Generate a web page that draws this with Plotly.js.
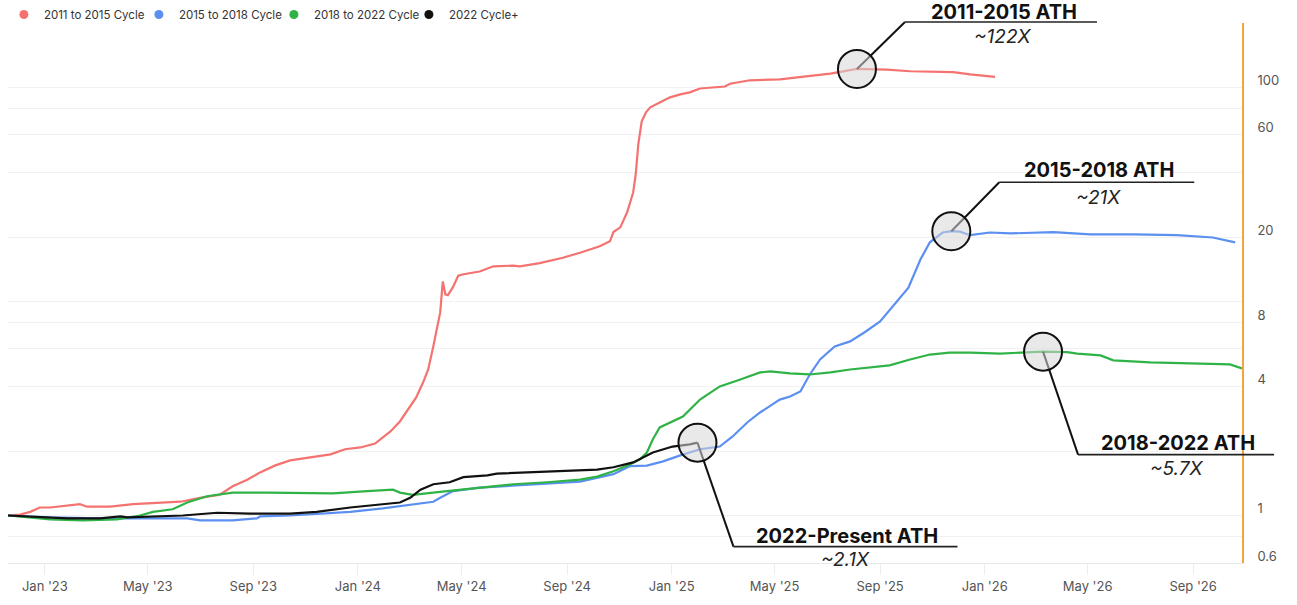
<!DOCTYPE html>
<html><head><meta charset="utf-8">
<script src="https://cdn.plot.ly/plotly-3.0.1.min.js"></script>
<style>html,body{margin:0;padding:0;background:#fff}#chart{width:1297px;height:605px}</style>
</head><body><div id="chart"></div>
<script>
// ---- data (days since cycle start, value as multiple of cycle low) ----
const cycleStart = '2022-11-19';
const seriesNames = ['2011 to 2015 Cycle', '2015 to 2018 Cycle', '2018 to 2022 Cycle', '2022 Cycle+'];
const seriesColors = ['#f4726f', '#5b8ff0', '#2fb346', '#111111'];

const redDays = [0,14,26,37,49,69,84,92,119,146,177,201,224,247,262,279,294,311,329,352,376,393,411,428,434,446,457,469,476,484,490,496,500,504,507,510,513,519,525,531,550,566,589,597,620,647,667,690,702,706,714,722,729,732,735,739,744,749,760,772,784,795,807,825,836,842,865,900,924,959,990,1025,1052,1083,1102,1122,1151];
const redValues = [1.00,1.01,1.04,1.09,1.09,1.11,1.13,1.10,1.10,1.13,1.15,1.16,1.21,1.25,1.37,1.47,1.59,1.71,1.81,1.87,1.93,2.04,2.08,2.17,2.27,2.47,2.75,3.23,3.56,4.18,4.81,6.17,7.41,8.89,12.4,10.8,10.7,11.7,13.2,13.4,13.8,14.6,14.7,14.6,15.1,16.0,16.9,18.1,19.1,21.1,22.2,26.1,32.3,39.2,54.2,69.4,76.5,80.7,85.1,89.9,92.8,94.8,98.9,100,101,104,108,109,112,116,122,121,119,118,118,115,112];

const blueDays = [0,49,107,146,209,224,262,290,294,329,360,399,437,477,496,504,519,550,589,629,667,706,725,745,764,784,807,830,845,862,877,900,912,924,935,947,964,982,999,1017,1034,1050,1064,1075,1090,1100,1110,1122,1145,1169,1219,1262,1312,1363,1405,1431];
const blueValues = [1.00,0.98,0.97,0.97,0.97,0.95,0.95,0.97,0.99,1.00,1.02,1.04,1.08,1.13,1.16,1.21,1.30,1.35,1.38,1.41,1.44,1.56,1.70,1.71,1.79,1.91,2.04,2.10,2.34,2.72,3.03,3.48,3.60,3.80,4.56,5.36,6.17,6.51,7.18,8.07,9.69,11.6,15.7,18.9,21.0,21.3,21.2,20.4,21.0,20.8,21.1,20.6,20.6,20.4,19.9,18.9];

const greenDays = [0,49,87,127,154,169,192,209,232,262,302,341,379,419,449,457,472,512,550,589,629,667,687,706,725,737,745,752,760,772,787,807,819,830,854,877,889,912,935,959,982,1005,1028,1052,1075,1098,1122,1157,1207,1235,1247,1274,1282,1289,1332,1390,1425,1439];
const greenValues = [1.00,0.96,0.95,0.96,1.00,1.04,1.07,1.15,1.23,1.28,1.28,1.28,1.27,1.30,1.32,1.28,1.25,1.30,1.35,1.40,1.43,1.47,1.52,1.61,1.73,1.83,1.97,2.27,2.58,2.72,2.90,3.48,3.76,4.01,4.32,4.66,4.71,4.61,4.56,4.66,4.81,4.92,5.03,5.36,5.65,5.77,5.77,5.71,5.83,5.80,5.71,5.60,5.42,5.31,5.19,5.13,5.08,4.87];

const blackDays = [0,29,69,107,131,139,166,204,244,282,329,360,399,437,457,469,481,496,515,531,559,570,609,647,687,706,729,752,775,795,804];
const blackValues = [1.00,0.99,0.97,0.97,0.99,0.98,0.99,1.00,1.03,1.02,1.02,1.04,1.09,1.13,1.15,1.21,1.32,1.40,1.43,1.51,1.54,1.57,1.59,1.61,1.64,1.68,1.77,1.97,2.10,2.15,2.19];

const yTickValues = [0.6, 0.8, 1, 2, 4, 6, 8, 10, 20, 40, 60, 80, 100, 200];
const yTickLabels = ['0.6', '', '1', '', '4', '', '8', '', '20', '', '60', '', '100', ''];
const xTickStart = '2023-01-01';
const xRange = ['2022-11-19', '2026-10-28'];
const yRange = [0.6, 200];

const athTitles = ['2011-2015 ATH', '2015-2018 ATH', '2018-2022 ATH', '2022-Present ATH'];
const athMultiples = ['~122X', '~21X', '~5.7X', '~2.1X'];

// ---- layout geometry ----
const W = 1297, H = 605;
const M = {l: 8, r: 55, t: 23, b: 42};
const plotW = W - M.l - M.r, plotH = H - M.t - M.b;

// ---- helpers ----
const startMs = Date.parse(cycleStart + 'T00:00:00Z');
function dayToDate(d) { return new Date(startMs + d * 86400000).toISOString().slice(0, 10); }
const xLo = Date.parse(xRange[0] + 'T00:00:00Z'), xHi = Date.parse(xRange[1] + 'T00:00:00Z');
const yLo = Math.log10(yRange[0]), yHi = Math.log10(yRange[1]);
// fraction of the plot area for a data point (same linear/log mapping as the axes)
function xFrac(dateStr) { return (Date.parse(dateStr + 'T00:00:00Z') - xLo) / (xHi - xLo); }
function yFrac(v) { return (Math.log10(v) - yLo) / (yHi - yLo); }

const allDays = [redDays, blueDays, greenDays, blackDays];
const allValues = [redValues, blueValues, greenValues, blackValues];

const traces = [];
allDays.forEach((days, i) => {
  traces.push({
    type: 'scatter', mode: 'lines', name: seriesNames[i], legendgroup: 'g' + i, showlegend: false,
    x: days.map(dayToDate), y: allValues[i],
    line: {color: seriesColors[i], width: 2.2}, hoverinfo: 'x+y+name'
  });
});
// legend entries shown as dots
seriesNames.forEach((n, i) => {
  traces.push({
    type: 'scatter', mode: 'markers', name: n, legendgroup: 'g' + i, showlegend: true,
    x: [null], y: [null], marker: {color: seriesColors[i], size: 9}
  });
});

// callout geometry (pixel offsets from ATH point; positive dy = up)
const calloutGeom = [
  {lx: 48, ly: 47, len: 192, tx: 147, ty: 57, sx: 146, sy: 32},
  {lx: 48, ly: 49, len: 195, tx: 148, ty: 61, sx: 147, sy: 34},
  {lx: 35, ly: -103, len: 196, tx: 135, ty: -91, sx: 134, sy: -117},
  {lx: 36, ly: -104, len: 224, tx: 150, ty: -93, sx: 148, sy: -117}
];
const R = 19;

const shapes = [];
const annotations = [];
allValues.forEach((vals, i) => {
  let k = 0;
  vals.forEach((v, j) => { if (v > vals[k]) k = j; });
  const ax = dayToDate(allDays[i][k]);
  const g = calloutGeom[i];
  const px = xFrac(ax), py = yFrac(vals[k]);
  const ox = d => px + d / plotW, oy = d => py + d / plotH;
  const base = {xref: 'paper', yref: 'paper', layer: 'above'};
  shapes.push(Object.assign({}, base, {type: 'line', x0: ox(0), y0: oy(0), x1: ox(g.lx), y1: oy(g.ly), line: {color: '#111', width: 2}}));
  shapes.push(Object.assign({}, base, {type: 'line', x0: ox(g.lx), y0: oy(g.ly), x1: ox(g.lx + g.len), y1: oy(g.ly), line: {color: '#222', width: 1.6}}));
  shapes.push(Object.assign({}, base, {type: 'circle', x0: ox(-R), x1: ox(R), y0: oy(-R), y1: oy(R), fillcolor: 'rgba(215,215,215,0.55)', line: {color: '#111', width: 2}}));
  const ay = Math.log10(vals[k]);
  annotations.push({xref: 'x', yref: 'y', x: ax, y: ay, xshift: g.tx, yshift: g.ty, showarrow: false,
    xanchor: 'center', yanchor: 'middle', text: '<b>' + athTitles[i] + '</b>',
    font: {family: 'Inter, Roboto, sans-serif', size: 20, color: '#111'}});
  annotations.push({xref: 'x', yref: 'y', x: ax, y: ay, xshift: g.sx, yshift: g.sy, showarrow: false,
    xanchor: 'center', yanchor: 'middle', text: '<i>' + athMultiples[i] + '</i>',
    font: {family: 'Inter, Roboto, sans-serif', size: 19, color: '#222'}});
});

const layout = {
  width: W, height: H,
  margin: Object.assign({autoexpand: false}, M),
  paper_bgcolor: '#fff', plot_bgcolor: '#fff',
  font: {family: 'Inter, Roboto, sans-serif', color: '#555'},
  showlegend: true,
  legend: {orientation: 'h', xref: 'container', yref: 'container', x: 0.003, y: 1, xanchor: 'left', yanchor: 'top',
    font: {size: 11.5, color: '#333'}, entrywidth: 90, itemwidth: 30, bgcolor: 'rgba(0,0,0,0)'},
  xaxis: {type: 'date', range: xRange, tick0: xTickStart, dtick: 'M4', tickformat: "%b '%y",
    showgrid: false, zeroline: false, showline: true, linecolor: '#e8e8e8', linewidth: 1,
    ticks: 'outside', ticklen: 11, tickcolor: '#ececec', tickwidth: 1,
    tickfont: {size: 13, color: '#555'}},
  yaxis: {type: 'log', side: 'right', range: [yLo, yHi],
    tickmode: 'array', tickvals: yTickValues, ticktext: yTickLabels,
    showgrid: true, gridcolor: '#f1f1f1', gridwidth: 1, zeroline: false,
    showline: true, linecolor: '#f5a540', linewidth: 1.6, ticks: '',
    ticklabelshift: -7, ticklabelstandoff: 11,
    tickfont: {size: 13, color: '#555'}},
  shapes: shapes, annotations: annotations
};

Plotly.newPlot('chart', traces, layout, {displayModeBar: false, responsive: false});
</script>
</body></html>
